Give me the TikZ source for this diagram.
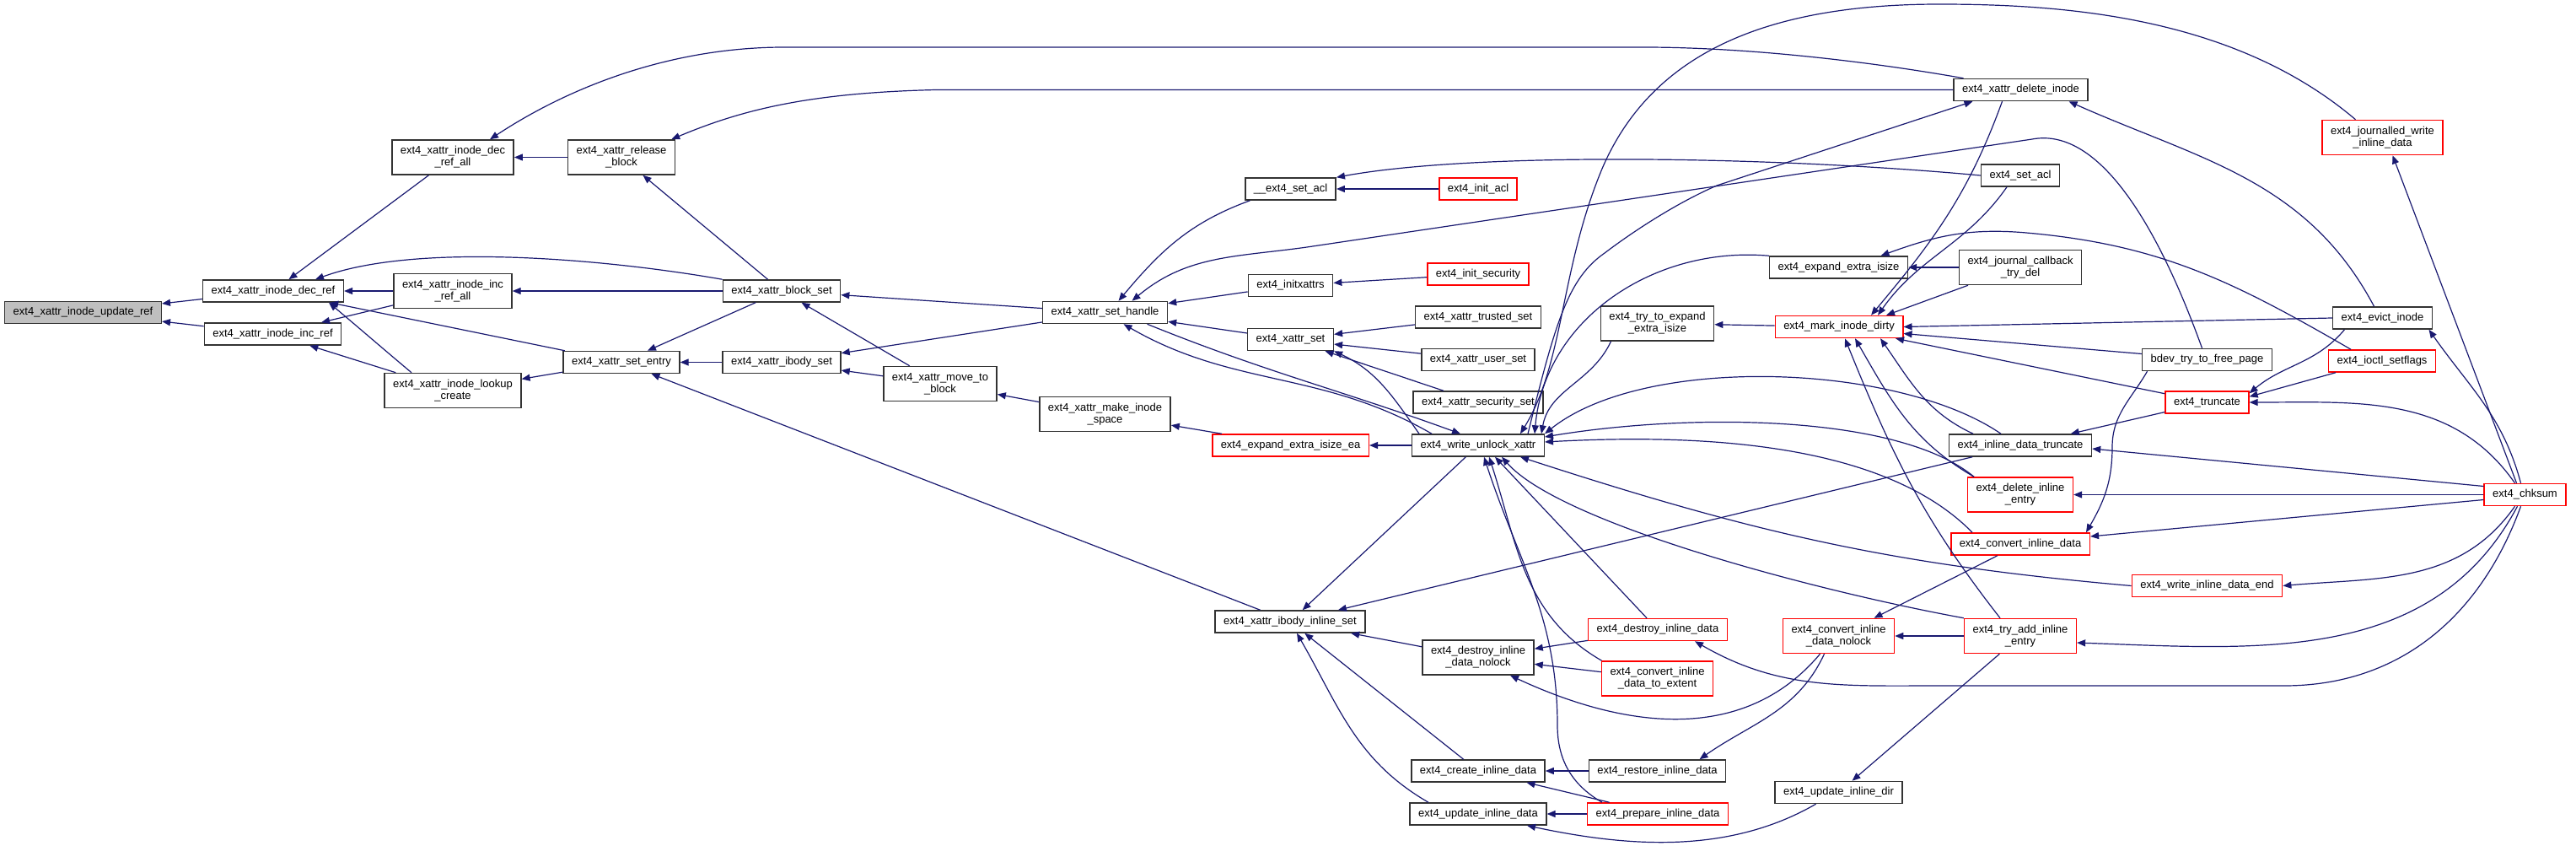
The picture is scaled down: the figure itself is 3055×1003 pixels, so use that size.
\documentclass[tikz,border=0pt]{standalone}
\usepackage{fontspec}
\setmainfont{Liberation Sans}
\usepackage{tikz}
\usetikzlibrary{arrows.meta}
\usepackage{xcolor}
\definecolor{edgeblue}{RGB}{25,25,112}

\begin{document}
\begin{tikzpicture}[
  x=1pt, y=1pt,
  font=\fontsize{13}{14}\selectfont,
  box/.style={draw=black!80, fill=white, line width=1.5pt, align=center, inner xsep=10pt, inner ysep=2pt, minimum height=26pt},
  twoline/.style={box, minimum height=41pt},
  redbox/.style={draw=red},
  arrow/.style={-{Triangle[length=10pt,width=8pt]}, line width=1.2pt, draw=edgeblue}
]
\useasboundingbox (0,0) rectangle (3055,-1003);
\node[box, fill=black!25] (upd) at (98.5,-370.5) {ext4\_xattr\_inode\_update\_ref};
\node[box] (dec) at (324,-345) {ext4\_xattr\_inode\_dec\_ref};
\node[box] (inc) at (323.5,-396) {ext4\_xattr\_inode\_inc\_ref};
\node[twoline] (decall) at (537,-186.5) {ext4\_xattr\_inode\_dec\\\_ref\_all};
\node[twoline] (incall) at (537,-345) {ext4\_xattr\_inode\_inc\\\_ref\_all};
\node[twoline] (lookup) at (537,-463) {ext4\_xattr\_inode\_lookup\\\_create};
\node[twoline] (release) at (737,-186.5) {ext4\_xattr\_release\\\_block};
\node[box] (setentry) at (737,-429.5) {ext4\_xattr\_set\_entry};
\node[box] (blockset) at (927,-345) {ext4\_xattr\_block\_set};
\node[box] (ibodyset) at (927,-429.5) {ext4\_xattr\_ibody\_set};
\node[twoline] (moveblk) at (1115,-455) {ext4\_xattr\_move\_to\\\_block};
\node[box] (sethandle) at (1310.5,-370.5) {ext4\_xattr\_set\_handle};
\node[twoline] (makespace) at (1310.5,-491) {ext4\_xattr\_make\_inode\\\_space};
\node[box] (setaclu) at (1530.5,-224) {\_\_ext4\_set\_acl};
\node[box] (initxattrs) at (1530.5,-338.5) {ext4\_initxattrs};
\node[box] (xattrset) at (1530.5,-402.5) {ext4\_xattr\_set};
\node[box, redbox] (expandea) at (1530.5,-528) {ext4\_expand\_extra\_isize\_ea};
\node[box] (ibodyinl) at (1530,-737) {ext4\_xattr\_ibody\_inline\_set};
\node[box, redbox] (initacl) at (1753,-224) {ext4\_init\_acl};
\node[box, redbox] (initsec) at (1753,-325) {ext4\_init\_security};
\node[box] (trusted) at (1753,-376) {ext4\_xattr\_trusted\_set};
\node[box] (userset) at (1753,-426.5) {ext4\_xattr\_user\_set};
\node[box] (secset) at (1753,-477) {ext4\_xattr\_security\_set};
\node[box] (wunlock) at (1753,-528) {ext4\_write\_unlock\_xattr};
\node[twoline] (destroynl) at (1753,-779.5) {ext4\_destroy\_inline\\\_data\_nolock};
\node[box] (createinl) at (1753,-914) {ext4\_create\_inline\_data};
\node[box] (updateinl) at (1753,-965) {ext4\_update\_inline\_data};
\node[twoline] (trytoexp) at (1965.5,-383.5) {ext4\_try\_to\_expand\\\_extra\_isize};
\node[box, redbox] (destroyinl) at (1966,-746.5) {ext4\_destroy\_inline\_data};
\node[twoline, redbox] (convext) at (1965.5,-804.5) {ext4\_convert\_inline\\\_data\_to\_extent};
\node[box] (restore) at (1965.5,-914) {ext4\_restore\_inline\_data};
\node[box, redbox] (prepare) at (1966,-965) {ext4\_prepare\_inline\_data};
\node[box] (expandx) at (2180.5,-317) {ext4\_expand\_extra\_isize};
\node[box, redbox] (mark) at (2181,-387.5) {ext4\_mark\_inode\_dirty};
\node[twoline, redbox] (convnl) at (2180.5,-754) {ext4\_convert\_inline\\\_data\_nolock};
\node[box] (updatedir) at (2180.5,-939.5) {ext4\_update\_inline\_dir};
\node[box] (xdelete) at (2396.5,-106.5) {ext4\_xattr\_delete\_inode};
\node[box] (setacl) at (2396,-208) {ext4\_set\_acl};
\node[twoline] (jcb) at (2396,-317) {ext4\_journal\_callback\\\_try\_del};
\node[box] (inltrunc) at (2396,-528) {ext4\_inline\_data\_truncate};
\node[twoline, redbox] (delentry) at (2396,-586.5) {ext4\_delete\_inline\\\_entry};
\node[box, redbox] (convinl) at (2396,-645) {ext4\_convert\_inline\_data};
\node[twoline, redbox] (tryadd) at (2396,-754) {ext4\_try\_add\_inline\\\_entry};
\node[box] (bdev) at (2617.5,-426.5) {bdev\_try\_to\_free\_page};
\node[box, redbox] (truncate) at (2617.5,-477) {ext4\_truncate};
\node[box, redbox] (wide) at (2617.5,-694.5) {ext4\_write\_inline\_data\_end};
\node[twoline, redbox] (journalled) at (2825.5,-163) {ext4\_journalled\_write\\\_inline\_data};
\node[box] (evict) at (2825.5,-377) {ext4\_evict\_inode};
\node[box, redbox] (ioctl) at (2825,-428) {ext4\_ioctl\_setflags};
\node[box, redbox] (chksum) at (2994.5,-586.5) {ext4\_chksum};

\draw[arrow] (dec) -- (upd);
\draw[arrow] (inc) -- (upd);
\draw[arrow] (decall) -- (dec);
\draw[arrow] (blockset.north west) to[out=170,in=20,looseness=0.7] ([xshift=50pt]dec.north);
\draw[arrow] (incall) -- (dec);
\draw[arrow] (setentry) -- (dec);
\draw[arrow] ([xshift=-49pt]lookup.north) to[out=140,in=-40] ([xshift=66pt]dec.south);
\draw[arrow] (incall) -- (inc);
\draw[arrow] (lookup) -- (inc);
\draw[arrow] (release) -- (decall);
\draw[arrow] ([xshift=-68pt]xdelete.north) .. controls (2200,-70) and (2060,-56) .. (1950,-56) -- (930,-56) .. controls (800,-56) and (680,-100) .. ([xshift=44pt]decall.north);
\draw[arrow] (xdelete.west) -- (1110,-106.5) .. controls (960,-110) and (880,-130) .. ([xshift=-5pt]release.north east);
\draw[arrow] (blockset) -- (release);
\draw[arrow] (blockset) -- (incall);
\draw[arrow] (setentry) -- (lookup);
\draw[arrow] (blockset) -- (setentry);
\draw[arrow] (ibodyset) -- (setentry);
\draw[arrow] (ibodyinl) -- (setentry);
\draw[arrow] (sethandle) -- (blockset);
\draw[arrow] (moveblk) -- (blockset);
\draw[arrow] (sethandle) -- (ibodyset);
\draw[arrow] (moveblk) -- (ibodyset);
\draw[arrow] (makespace) -- (moveblk);
\draw[arrow] (expandea) -- (makespace);
\draw[arrow] ([xshift=-48pt]setaclu.south) to[out=-160,in=50] ([xshift=16pt]sethandle.north);
\draw[arrow] ([xshift=-6pt]bdev.north) .. controls (2560,-270) and (2490,-150) .. (2410,-165) -- (1550,-293) to[out=188,in=40] ([xshift=32pt]sethandle.north);
\draw[arrow] (initxattrs) -- (sethandle);
\draw[arrow] (xattrset) -- (sethandle);
\draw[arrow] ([xshift=-55pt]wunlock.north) to[out=150,in=-30] ([xshift=22pt]sethandle.south);
\draw[arrow] ([xshift=50pt]sethandle.south) to[out=-22,in=160] ([xshift=-21pt]wunlock.north);
\draw[arrow] (initacl) -- (setaclu);
\draw[arrow] (setacl.west) .. controls (2100,-185) and (1750,-180) .. (setaclu.north east);
\draw[arrow] (initsec) -- (initxattrs);
\draw[arrow] (trusted) -- (xattrset);
\draw[arrow] (userset) -- (xattrset);
\draw[arrow] (secset) -- (xattrset);
\draw[arrow] ([xshift=-70pt]wunlock.north) to[out=125,in=-25] (xattrset.south east);
\draw[arrow] (wunlock) -- (expandea);
\draw[arrow] (wunlock) -- (ibodyinl);
\draw[arrow] (inltrunc) -- (ibodyinl);
\draw[arrow] (destroynl) -- (ibodyinl);
\draw[arrow] (createinl) -- (ibodyinl);
\draw[arrow] ([xshift=-59pt]updateinl.north) to[out=150,in=-60] ([xshift=8pt]ibodyinl.south);
\draw[arrow] ([xshift=-32pt]journalled.north) .. controls (2650,-20) and (2450,-5) .. (2300,-5) .. controls (2100,-5) and (1960,-60) .. (1900,-200) .. controls (1850,-320) and (1855,-430) .. ([xshift=50pt]wunlock.north);
\draw[arrow] ([xshift=59pt]wunlock.north) .. controls (1845,-380) and (1860,-330) .. (1903,-300) .. controls (1940,-272) and (1990,-240) .. (2036,-220) -- ([xshift=-57pt]xdelete.south);
\draw[arrow] ([xshift=-55pt]trytoexp.south) to[out=-115,in=80] ([xshift=75pt]wunlock.north);
\draw[arrow] (expandx.north west) to[out=175,in=85] ([xshift=67pt]wunlock.north);
\draw[arrow] ([xshift=-23pt]inltrunc.north) .. controls (2250,-430) and (1950,-420) .. (wunlock.north east);
\draw[arrow] ([xshift=-55pt]delentry.north) .. controls (2250,-490) and (2000,-490) .. ([yshift=10pt]wunlock.east);
\draw[arrow] ([xshift=-57pt]convinl.north) .. controls (2230,-520) and (2000,-515) .. ([yshift=4pt]wunlock.east);
\draw[arrow] (wide.west) to[out=175,in=-18] ([xshift=50pt]wunlock.south);
\draw[arrow] (tryadd.north west) .. controls (2150,-700) and (1850,-620) .. ([xshift=28pt]wunlock.south);
\draw[arrow] ([xshift=-13pt]destroyinl.north) -- ([xshift=20pt]wunlock.south);
\draw[arrow] ([xshift=-66pt]convext.north) to[out=150,in=-72] ([xshift=13pt]wunlock.south);
\draw[arrow] ([xshift=-66pt]prepare.north) to[out=150,in=-90] (1847,-860) to[out=90,in=-72] ([xshift=7pt]wunlock.south);
\draw[arrow] (destroyinl) -- (destroynl);
\draw[arrow] (convext) -- (destroynl);
\draw[arrow] ([xshift=-22pt]convnl.south) to[out=-130,in=-25] ([xshift=38pt]destroynl.south);
\draw[arrow] (restore) -- (createinl);
\draw[arrow] (prepare) -- (createinl);
\draw[arrow] (prepare) -- (updateinl);
\draw[arrow] ([xshift=-27pt]updatedir.south) to[out=-150,in=-12,looseness=0.9] ([xshift=58pt]updateinl.south);
\draw[arrow] ([xshift=-17pt]convnl.south) to[out=-115,in=35] ([xshift=50pt]restore.north);
\draw[arrow] (mark) -- (trytoexp);
\draw[arrow] ([xshift=-22pt]xdelete.south) to[out=-110,in=50] ([xshift=38pt]mark.north);
\draw[arrow] ([xshift=-16pt]setacl.south) to[out=-125,in=55] ([xshift=46pt]mark.north);
\draw[arrow] ([xshift=-62pt]jcb.south) -- ([xshift=56pt]mark.north);
\draw[arrow] (evict.west) -- (mark.east);
\draw[arrow] ([yshift=7pt]bdev.west) -- ([yshift=-8pt]mark.east);
\draw[arrow] (truncate) -- (mark);
\draw[arrow] ([xshift=-24pt]tryadd.north) to[out=128,in=-68] ([xshift=7pt]mark.south);
\draw[arrow] ([xshift=-55pt]delentry.north) to[out=150,in=-60] ([xshift=19pt]mark.south);
\draw[arrow] ([xshift=-56pt]inltrunc.north) to[out=155,in=-55] ([xshift=49pt]mark.south);
\draw[arrow] ([xshift=-37pt]ioctl.north) to[out=150,in=-5] (2403,-276) to[out=175,in=20] ([xshift=50pt]expandx.north);
\draw[arrow] (jcb) -- (expandx);
\draw[arrow] (convinl) -- (convnl);
\draw[arrow] (tryadd) -- (convnl);
\draw[arrow] (tryadd) -- (updatedir);
\draw[arrow] ([xshift=-5pt]chksum.south) to[out=-110,in=0] (2709,-813) -- (2300,-813) to[out=180,in=-30] ([xshift=44pt]destroyinl.south);
\draw[arrow] ([xshift=-10pt]evict.north) to[out=118,in=-24] ([xshift=57pt]xdelete.south);
\draw[arrow] ([xshift=-71pt]bdev.south) to[out=-120,in=90] (2505,-530) to[out=-90,in=60] ([xshift=78pt]convinl.north);
\draw[arrow] ([xshift=-45pt]evict.south) to[out=-130,in=40] ([yshift=-3pt]truncate.north east);
\draw[arrow] ([xshift=-55pt]ioctl.south) -- ([yshift=-7pt]truncate.north east);
\draw[arrow] ([xshift=-12pt]chksum.north) to[out=125,in=0] (truncate.east);
\draw[arrow] (truncate) -- (inltrunc);
\draw[arrow] ([xshift=-10pt]chksum.north) -- ([xshift=12pt]journalled.south);
\draw[arrow] ([xshift=-5pt]chksum.north) to[out=105,in=-55] ([xshift=55pt]evict.south);
\draw[arrow] ([yshift=10pt]chksum.west) -- ([yshift=-4pt]inltrunc.east);
\draw[arrow] (chksum) -- (delentry);
\draw[arrow] ([yshift=-6pt]chksum.west) -- ([yshift=9pt]convinl.east);
\draw[arrow] ([xshift=-12pt]chksum.south) to[out=-125,in=5] (wide.east);
\draw[arrow] ([xshift=-9pt]chksum.south) to[out=-118,in=-2] ([yshift=-8pt]tryadd.east);
\end{tikzpicture}
\end{document}
